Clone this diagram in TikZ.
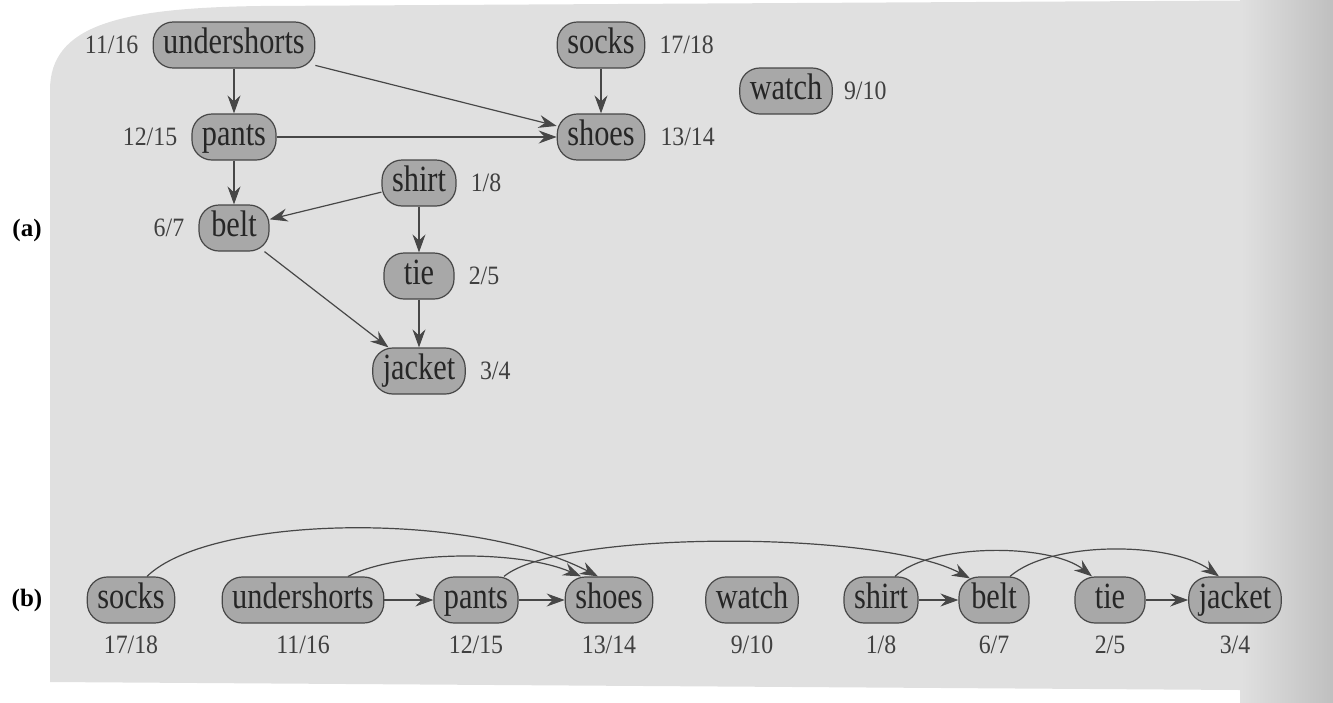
\documentclass[tikz,border=0pt]{standalone}
\usepackage{fontspec}
\setmainfont{Liberation Serif}
\newfontfamily\vtxfont[FakeStretch=0.82]{Liberation Serif}
\newfontfamily\numfont[FakeStretch=0.9]{Liberation Serif}
\usetikzlibrary{arrows.meta,positioning,calc}
\definecolor{bgstip}{gray}{0.88}
\definecolor{bgdark}{gray}{0.75}
\definecolor{nodefill}{gray}{0.66}
\definecolor{edgecol}{gray}{0.28}
\definecolor{txtcol}{gray}{0.15}
\definecolor{numcol}{gray}{0.25}
\begin{document}
\begin{tikzpicture}[x=1pt,y=-1pt,
  vtx/.style={draw=edgecol, line width=1.2pt, fill=nodefill, rounded corners=20pt,
    minimum height=46pt, minimum width=70pt, inner xsep=10pt, inner ysep=0pt,
    text=txtcol, font=\vtxfont\fontsize{37}{42}\selectfont, text height=25pt, text depth=8pt},
  num/.style={inner sep=0pt, text=numcol, font=\numfont\fontsize{26.5}{30}\selectfont},
  partlbl/.style={inner sep=0pt, font=\bfseries\fontsize{25}{30}\selectfont},
  arr/.style={draw=edgecol, line width=1.2pt, -{Stealth[length=18pt,width=13pt,inset=6pt]}},
]
\useasboundingbox (0,0) rectangle (1333,702);
% stippled background
\fill[bgstip] (50,90) .. controls (50,25) and (120,8) .. (260,6) -- (1333,0) -- (1333,702) -- (1240,702) -- (1240,690) -- (50,682) -- cycle;
\shade[left color=bgstip, right color=bgdark] (1240,0) rectangle (1333,702);

% ---------- (a) ----------
\node[partlbl] (la) at (27,230) {(a)};
\node[vtx] (us) at (234,45) {undershorts};
\node[vtx] (so) at (601,45) {socks};
\node[vtx] (wa) at (786,91) {watch};
\node[vtx] (pa) at (234,137) {pants};
\node[vtx] (sh) at (601,137) {shoes};
\node[vtx] (st) at (419,183) {shirt};
\node[vtx] (be) at (234,228) {belt};
\node[vtx] (ti) at (419,276) {tie};
\node[vtx] (ja) at (419,371) {jacket};

\node[num, base left=14pt of us] (usn) {11/16};
\node[num, base right=14pt of so] (son) {17/18};
\node[num, base right=11pt of wa] (wan) {9/10};
\node[num, base left=14pt of pa] (pan) {12/15};
\node[num, base right=15pt of sh] (shn) {13/14};
\node[num, base right=14pt of st] (stn) {1/8};
\node[num, base left=14pt of be] (ben) {6/7};
\node[num, base right=14pt of ti] (tin) {2/5};
\node[num, base right=14pt of ja] (jan) {3/4};

\draw[arr] (us) -- (pa);
\draw[arr] (us) -- (sh);
\draw[arr] (pa) -- (sh);
\draw[arr] (pa) -- (be);
\draw[arr] (so) -- (sh);
\draw[arr] (st) -- (be);
\draw[arr] (st) -- (ti);
\draw[arr] (be) -- (ja);
\draw[arr] (ti) -- (ja);

% ---------- (b) ----------
\node[partlbl] (lb) at (27,600) {(b)};
\node[vtx] (sob) at (131,600) {socks};
\node[vtx] (usb) at (303,600) {undershorts};
\node[vtx] (pab) at (476,600) {pants};
\node[vtx] (shb) at (609,600) {shoes};
\node[vtx] (wab) at (752,600) {watch};
\node[vtx] (stb) at (881,600) {shirt};
\node[vtx] (beb) at (994,600) {belt};
\node[vtx] (tib) at (1110,600) {tie};
\node[vtx] (jab) at (1235,600) {jacket};

\node[num] (sobn) at (131,645) {17/18};
\node[num] (usbn) at (303,645) {11/16};
\node[num] (pabn) at (476,645) {12/15};
\node[num] (shbn) at (609,645) {13/14};
\node[num] (wabn) at (752,645) {9/10};
\node[num] (stbn) at (881,645) {1/8};
\node[num] (bebn) at (994,645) {6/7};
\node[num] (tibn) at (1110,645) {2/5};
\node[num] (jabn) at (1235,645) {3/4};

\draw[arr] (usb) -- (pab);
\draw[arr] (pab) -- (shb);
\draw[arr] (stb) -- (beb);
\draw[arr] (tib) -- (jab);
\draw[arr] ([xshift=16pt]sob.north) .. controls (210,515) and (470,510) .. ([xshift=-11pt]shb.north);
\draw[arr] ([xshift=45pt]usb.north) .. controls (400,550) and (520,550) .. ([xshift=-28pt]shb.north);
\draw[arr] ([xshift=28pt]pab.north) .. controls (560,530) and (880,530) .. ([xshift=-24pt,yshift=-2pt]beb.north);
\draw[arr] ([xshift=14pt]stb.north) .. controls (930,543) and (1050,543) .. ([xshift=-18pt]tib.north);
\draw[arr] ([xshift=16pt]beb.north) .. controls (1050,541) and (1170,541) .. ([xshift=-16pt]jab.north);
\end{tikzpicture}
\end{document}
